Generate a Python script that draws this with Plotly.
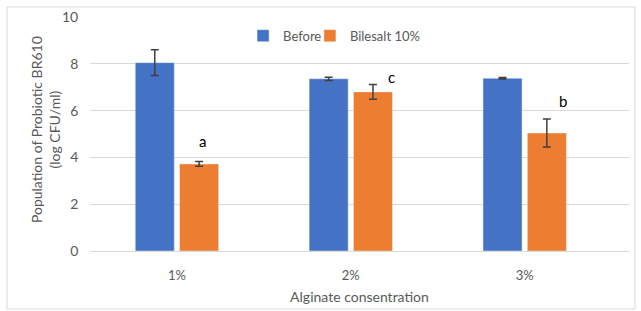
import plotly.graph_objects as go

categories = ["1%", "2%", "3%"]
before = [8.05, 7.36, 7.38]
before_err = [0.55, 0.07, 0.03]
bile = [3.72, 6.8, 5.04]
bile_err = [0.1, 0.32, 0.6]
letters = ["a", "c", "b"]
letter_y = [4.68, 7.42, 6.4]
letter_shift = [1, 16, 13]
y_title = "Population of Probiotic BR610<br>(log CFU/ml)"

FONT = "Lato, Open Sans, sans-serif"
GRAY = "#595959"

fig = go.Figure()
fig.add_trace(go.Bar(
    x=categories, y=before, name="Before", marker_color="#4472C4", legend="legend",
    error_y=dict(type="data", array=before_err, color="#404040", thickness=1.5, width=4),
))
fig.add_trace(go.Bar(
    x=categories, y=bile, name="Bilesalt 10%", marker_color="#ED7D31", legend="legend2",
    error_y=dict(type="data", array=bile_err, color="#404040", thickness=1.5, width=4),
))

for i, (c, lt, ly) in enumerate(zip(categories, letters, letter_y)):
    fig.add_annotation(x=i, y=ly, text=lt, showarrow=False, xshift=25 + letter_shift[i],
                       font=dict(family=FONT, size=15, color="#000000"))

# y-axis title as rotated text
fig.add_annotation(xref="paper", yref="paper", x=-0.0835, y=0.521, text=y_title,
                   textangle=-90, showarrow=False, xanchor="center", yanchor="middle",
                   font=dict(family=FONT, size=14, color=GRAY))

fig.add_shape(type="rect", xref="paper", yref="paper", x0=-0.154, x1=1.011, y0=-0.248, y1=1.043,
              line=dict(color="#d9d9d9", width=1), fillcolor="rgba(0,0,0,0)", layer="below")

leg_common = dict(orientation="h", y=0.92, yanchor="middle", xanchor="left",
                  font=dict(family=FONT, size=13, color=GRAY), itemwidth=30,
                  bgcolor="rgba(0,0,0,0)")

fig.update_layout(
    width=641, height=311,
    margin=dict(l=90, r=12, t=17, b=60),
    paper_bgcolor="white", plot_bgcolor="white",
    barmode="group", bargap=0.49, bargroupgap=0.12,
    font=dict(family=FONT, size=12, color=GRAY),
    showlegend=True,
    legend=dict(x=0.284, **leg_common),
    legend2=dict(x=0.408, **leg_common),
    xaxis=dict(range=[-0.5, 2.6], showgrid=False, showline=True, linecolor="#d9d9d9",
               automargin=False,
               ticks="", tickfont=dict(size=13, color=GRAY), ticklabelstandoff=12,
               title=dict(text="Alginate consentration", font=dict(size=14, color=GRAY), standoff=10)),
    yaxis=dict(range=[0, 10], dtick=2, showgrid=True, gridcolor="#d9d9d9", zeroline=False,
               automargin=False,
               showline=False, tickfont=dict(size=14, color=GRAY), ticklen=0,
               ticksuffix="   "),
)

fig.write_html("out.html", post_script="document.body.style.margin='0';",
               config={"displayModeBar": False})
